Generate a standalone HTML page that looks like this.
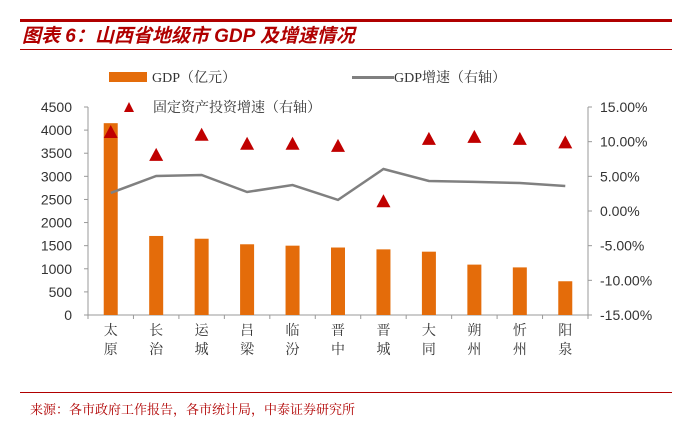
<!DOCTYPE html>
<html><head><meta charset="utf-8"><style>
body{margin:0;background:#fff;width:700px;height:424px;overflow:hidden;font-family:"Liberation Sans","Noto Sans CJK SC",sans-serif}
svg text{font-family:"Liberation Sans","Noto Sans CJK SC",sans-serif}
svg text.serif{font-family:"Liberation Serif","Noto Serif CJK SC",serif}
</style></head><body>
<svg width="700" height="424">
<rect x="20" y="19" width="652" height="3" fill="#b00000"/>
<text x="22" y="42" font-size="19" font-weight="bold" font-style="italic" fill="#b00000">图表 6：山西省地级市 GDP 及增速情况</text>
<rect x="20" y="49" width="652" height="1" fill="#b00000"/>
<g>
<rect x="109" y="72" width="38" height="10" fill="#e46c0a"/>
<text class="serif" x="152" y="82" font-size="14" fill="#333">GDP（亿元）</text>
<rect x="352" y="76" width="42" height="3" fill="#808080"/>
<text class="serif" x="394" y="82" font-size="14" fill="#333">GDP增速（右轴）</text>
<polygon points="129,102 134,112 124,112" fill="#c00000"/>
<text class="serif" x="153" y="112" font-size="14" fill="#333">固定资产投资增速（右轴）</text>
</g>
<g id="axes"></g><g id="marks"></g>
<rect x="20" y="392" width="652" height="1" fill="#b00000"/>
<text class="serif" x="30" y="414" font-size="13" fill="#b00000">来源：各市政府工作报告，各市统计局，中泰证券研究所</text>
</svg>
<script>
const categories=["太原","长治","运城","吕梁","临汾","晋中","晋城","大同","朔州","忻州","阳泉"];
const gdp=[4150,1710,1650,1530,1500,1460,1420,1370,1090,1030,730];
const gdpGrowth=[2.6,5.05,5.2,2.74,3.75,1.6,6.06,4.33,4.2,4.04,3.6];
const faiGrowth=[11.4,8.1,11.0,9.7,9.7,9.4,1.4,10.4,10.7,10.4,9.9];
const leftTicks=[0,500,1000,1500,2000,2500,3000,3500,4000,4500];
const rightTicks=[-15,-10,-5,0,5,10,15];
const NS="http://www.w3.org/2000/svg";
const X0=88,X1=588,Y0=315,Y1=107;
const bw=(X1-X0)/categories.length;
const xC=i=>X0+bw*(i+0.5);
const yL=v=>Y0-(v/4500)*(Y0-Y1);
const yR=v=>Y0-((v+15)/30)*(Y0-Y1);
function mk(t,a,p){const e=document.createElementNS(NS,t);for(const k in a)e.setAttribute(k,a[k]);p.appendChild(e);return e;}
const ax=document.getElementById('axes'),mg=document.getElementById('marks');
let l=mk('line',{x1:X0,y1:Y1,x2:X0,y2:Y0,stroke:'#999'},ax);


l=mk('line',{x1:X1,y1:Y1,x2:X1,y2:Y0,stroke:'#999'},ax);


l=mk('line',{x1:X0,y1:Y0,x2:X1,y2:Y0,stroke:'#999'},ax);


leftTicks.forEach(v=>{const y=yL(v);mk('line',{x1:X0-4,y1:y,x2:X0,y2:y,stroke:'#999'},ax);
const t=mk('text',{x:X0-16,y:y+5,'font-size':14,'text-anchor':'end',fill:'#333'},ax);t.textContent=v;

});
rightTicks.forEach(v=>{const y=yR(v);mk('line',{x1:X1,y1:y,x2:X1+4,y2:y,stroke:'#999'},ax);
const t=mk('text',{x:X1+12,y:y+5,'font-size':14,fill:'#333'},ax);t.textContent=v.toFixed(2)+'%';

});
for(let i=0;i<=categories.length;i++)mk('line',{x1:X0+bw*i,y1:Y0,x2:X0+bw*i,y2:Y0+4,stroke:'#999'},ax);
categories.forEach((c,i)=>{[0,1].forEach(k=>{const t=mk('text',{x:xC(i),y:335+k*19,'font-size':14,'text-anchor':'middle',fill:'#333','class':'serif'},ax);t.textContent=c[k];

});});
gdp.forEach((v,i)=>{const r=mk('rect',{x:xC(i)-7,y:yL(v),width:14,height:Y0-yL(v),fill:'#e46c0a'},mg);

});
const p=mk('polyline',{points:gdpGrowth.map((v,i)=>xC(i)+','+yR(v)).join(' '),fill:'none',stroke:'#808080','stroke-width':2.5},mg);


faiGrowth.forEach((v,i)=>{const x=xC(i),y=yR(v);const t=mk('polygon',{points:`${x},${y-7} ${x+7},${y+6} ${x-7},${y+6}`,fill:'#c00000'},mg);

});
</script>
</body></html>
